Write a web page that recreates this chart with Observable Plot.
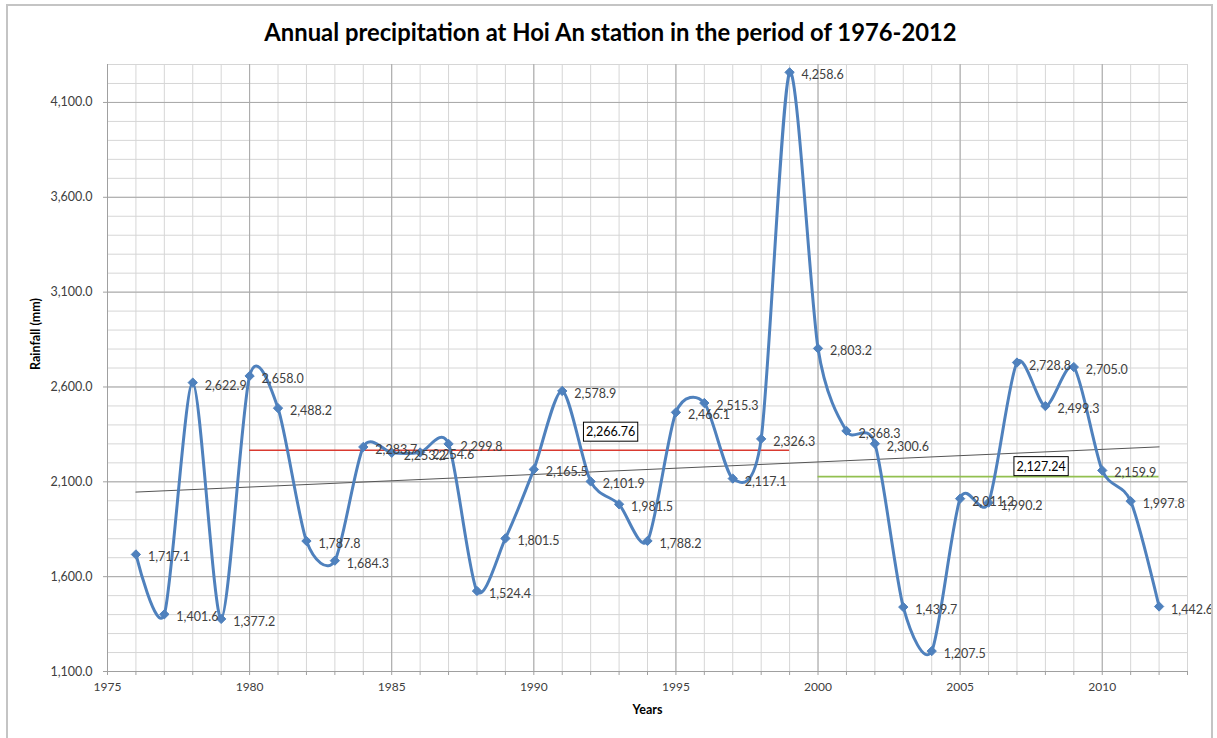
<!DOCTYPE html>
<html>
<head>
<meta charset="utf-8">
<script src="https://cdn.jsdelivr.net/npm/d3@7"></script>
<script src="https://cdn.jsdelivr.net/npm/@observablehq/plot@0.6"></script>
<style>
  html, body { margin: 0; padding: 0; background: #fff; }
  #wrap { position: relative; width: 1217px; height: 738px; overflow: hidden; font-family: Lato, "Open Sans", sans-serif; }
  #frame { position: absolute; left: 6px; top: 4px; width: 1207px; height: 760px; border: 2px solid #c4c4c4; box-sizing: border-box; pointer-events: none; }
  #title { height: 56px; line-height: 64px; text-align: center; font-weight: bold; font-size: 23.8px; color: #000; padding-left: 4px; }
  #chart svg { display: block; }
</style>
</head>
<body>
<div id="wrap">
  <div id="frame"></div>
  <div id="title">Annual precipitation at Hoi An station in the period of 1976-2012</div>
  <div id="chart"></div>
</div>
<script>
const years = [1976,1977,1978,1979,1980,1981,1982,1983,1984,1985,1986,1987,1988,1989,1990,1991,1992,1993,1994,1995,1996,1997,1998,1999,2000,2001,2002,2003,2004,2005,2006,2007,2008,2009,2010,2011,2012];
const rainfall = [1717.1,1401.6,2622.9,1377.2,2658.0,2488.2,1787.8,1684.3,2283.7,2253.2,2254.6,2299.8,1524.4,1801.5,2165.5,2578.9,2101.9,1981.5,1788.2,2466.1,2515.3,2117.1,2326.3,4258.6,2803.2,2368.3,2300.6,1439.7,1207.5,2011.2,1990.2,2728.8,2499.3,2705.0,2159.9,1997.8,1442.6];
const periodStart = [1980, 2000];
const periodEnd = [1999, 2012];
const periodMean = [2266.76, 2127.24];
const periodColor = ["#d93a30", "#92c050"];
const yMajorTicks = [1100,1600,2100,2600,3100,3600,4100];
const xMajorTicks = [1975,1980,1985,1990,1995,2000,2005,2010];

const data = years.map((x, i) => ({x, v: rainfall[i]}));
const periods = periodStart.map((s, i) => ({x1: s, x2: periodEnd[i], v: periodMean[i], c: periodColor[i]}));

const fmt1 = d3.format(",.1f");
const fmt2 = d3.format(",.2f");
const font = "Lato, 'Open Sans', sans-serif";

const plot = Plot.plot({
  width: 1217,
  height: 682,
  marginLeft: 107,
  marginRight: 30,
  marginTop: 8,
  marginBottom: 67,
  style: {fontFamily: font, background: "transparent", overflow: "visible"},
  x: {domain: [1975, 2013]},
  y: {domain: [1100, 4300]},
  marks: [
    Plot.gridX(d3.range(1975, 2014), {stroke: "#d6d6d6", strokeOpacity: 1}),
    Plot.gridY(d3.range(1100, 4301, 100), {stroke: "#d6d6d6", strokeOpacity: 1}),
    Plot.gridX(xMajorTicks, {stroke: "#a8a8a8", strokeOpacity: 1}),
    Plot.gridY(yMajorTicks, {stroke: "#a8a8a8", strokeOpacity: 1}),
    Plot.axisY({ticks: yMajorTicks, tickFormat: fmt1, tickSize: 4, tickPadding: 11, stroke: "#a0a0a0", fill: "#404040", fontSize: 12.5, label: null}),
    Plot.axisX({ticks: d3.range(1975, 2014), tickFormat: d => d % 5 === 0 ? String(d) : "", tickSize: 4, tickPadding: 7, stroke: "#a0a0a0", fill: "#404040", fontSize: 12, label: null}),
    Plot.ruleY([1100], {stroke: "#a0a0a0"}),
    Plot.ruleX([1975], {stroke: "#a0a0a0"}),
    Plot.text(["Rainfall (mm)"], {frameAnchor: "left", dx: -72, dy: 2, rotate: -90, fontWeight: "bold", fontSize: 12.5, fill: "#000"}),
    Plot.text(["Years"], {frameAnchor: "bottom", dy: 42, dx: 0, fontWeight: "bold", fontSize: 12.5, fill: "#000"}),
    Plot.linearRegressionY(data, {x: "x", y: "v", stroke: "#555", strokeWidth: 1, ci: 0}),
    Plot.ruleY(periods, {x1: "x1", x2: "x2", y: "v", stroke: "c", strokeWidth: 1.6}),
    Plot.line(data, {x: "x", y: "v", curve: "cardinal", tension: 0.2, stroke: "#4f81bd", strokeWidth: 3}),
    Plot.dot(data, {x: "x", y: "v", symbol: "diamond2", r: 4.2, fill: "#4f81bd", stroke: "#4f81bd", strokeWidth: 1}),
    Plot.text(data, {x: "x", y: "v", text: d => fmt1(d.v), dx: 12, dy: 3, textAnchor: "start", fontSize: 12.5, fill: "#404040"}),
    Plot.text(periods.slice(0, 1), {x: "x2", y: "v", text: d => fmt2(d.v), dx: -179, dy: -18, fontSize: 12.5, fill: "#000", className: "avg-label"}),
    Plot.text(periods.slice(1, 2), {x: "x2", y: "v", text: d => fmt2(d.v), dx: -118, dy: -10, fontSize: 12.5, fill: "#000", className: "avg-label"})
  ]
});
document.getElementById("chart").append(plot);

// white boxes with black borders behind the period-average labels
plot.querySelectorAll("g.avg-label text").forEach(t => {
  const b = t.getBBox();
  const r = document.createElementNS("http://www.w3.org/2000/svg", "rect");
  r.setAttribute("x", b.x - 2.5);
  r.setAttribute("y", b.y - 2);
  r.setAttribute("width", b.width + 5);
  r.setAttribute("height", b.height + 4);
  r.setAttribute("fill", "#fff");
  r.setAttribute("stroke", "#000");
  r.setAttribute("stroke-width", 1);
  const tr = t.getAttribute("transform");
  if (tr) r.setAttribute("transform", tr);
  t.parentNode.insertBefore(r, t);
});
</script>
</body>
</html>
